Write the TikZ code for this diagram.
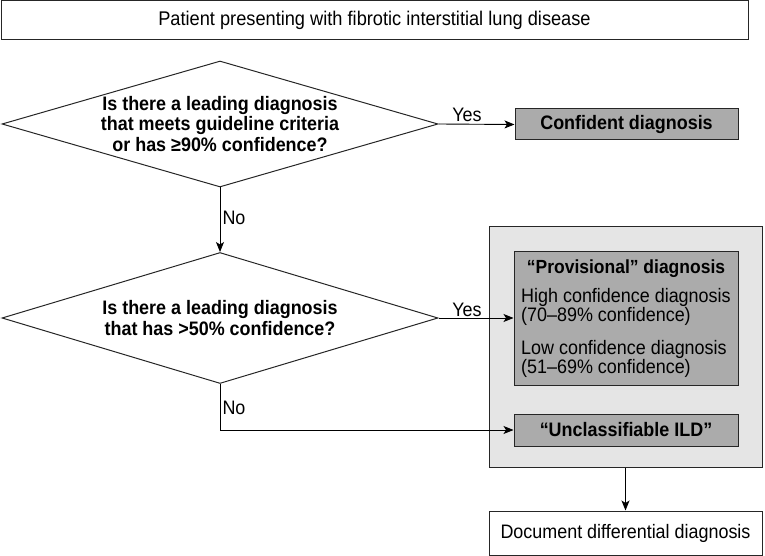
\documentclass[tikz,border=0pt]{standalone}
\usepackage{fontspec}
\setmainfont{Liberation Sans}[FakeStretch=0.92]
\usetikzlibrary{shapes.geometric,arrows.meta}
\newcommand{\fsz}[2]{\fontsize{#1}{#2}\selectfont}
\begin{document}
\begin{tikzpicture}[x=1pt,y=-1pt,
  font=\fsz{19.5}{21},
  box/.style={draw=black!85, line width=1pt, inner sep=0pt},
  dia/.style={box, diamond, aspect=3.46},
  qtext/.style={font=\fsz{19.5}{20.5}\bfseries, align=center, inner sep=0pt},
  dark/.style={box, fill=black!33},
  light/.style={box, fill=black!10},
  arr/.style={-{Stealth[length=10pt,width=8pt,inset=2.5pt]}, line width=0.9pt},
  lab/.style={inner sep=0pt}]
\useasboundingbox (0,0) rectangle (765,556);
\node[box, minimum width=747pt, minimum height=39pt, font=\fsz{19.8}{21}] (top) at (374.5,20.5) {Patient presenting with fibrotic interstitial lung disease};
\node[dia, minimum width=436pt, minimum height=126pt] (d1) at (220,124) {};
\node[qtext] (d1t) at (d1.center) {Is there a leading diagnosis\\that meets guideline criteria\\or has ≥90\% confidence?};
\node[dark, minimum width=223pt, minimum height=31pt, font=\fsz{19.5}{21}\bfseries] (conf) at (626.5,124.5) {Confident diagnosis};
\node[dia, minimum width=436pt, minimum height=131pt] (d2) at (220,318) {};
\node[qtext] (d2t) at (d2.center) {Is there a leading diagnosis\\that has >50\% confidence?};
\node[light, minimum width=273pt, minimum height=241pt] (grp) at (625.5,346.5) {};
\node[dark, minimum width=224pt, minimum height=134pt] (prov) at (626,318) {};
\node[lab, font=\fsz{19}{21}\bfseries] (provt) at (626,269) {“Provisional” diagnosis};
\node[lab, anchor=west, align=left, font=\fsz{19.5}{17.5}] (provb) at (521,333) {High confidence diagnosis\\(70–89\% confidence)\\[13pt]Low confidence diagnosis\\(51–69\% confidence)};
\node[dark, minimum width=224pt, minimum height=32pt, font=\fsz{19.5}{21}\bfseries] (uncl) at (626,430) {“Unclassifiable ILD”};
\node[box, minimum width=273pt, minimum height=44pt] (doc) at (625.5,533) {Document differential diagnosis};
\coordinate (bend) at (d2.south |- uncl.west);
\draw[arr] (d1.east) -- (conf.west);
\draw[arr] (d1.south) -- (d2.north);
\draw[arr] (d2.east) -- (d2.east -| prov.west);
\draw[arr] (d2.south) -- (bend) -- (uncl.west);
\draw[arr] (grp.south) -- (doc.north);
\node[lab] (y1) at (467,115) {Yes};
\node[lab] (y2) at (467,310) {Yes};
\node[lab] (n1) at (234,218) {No};
\node[lab] (n2) at (234,408) {No};
\end{tikzpicture}
\end{document}
